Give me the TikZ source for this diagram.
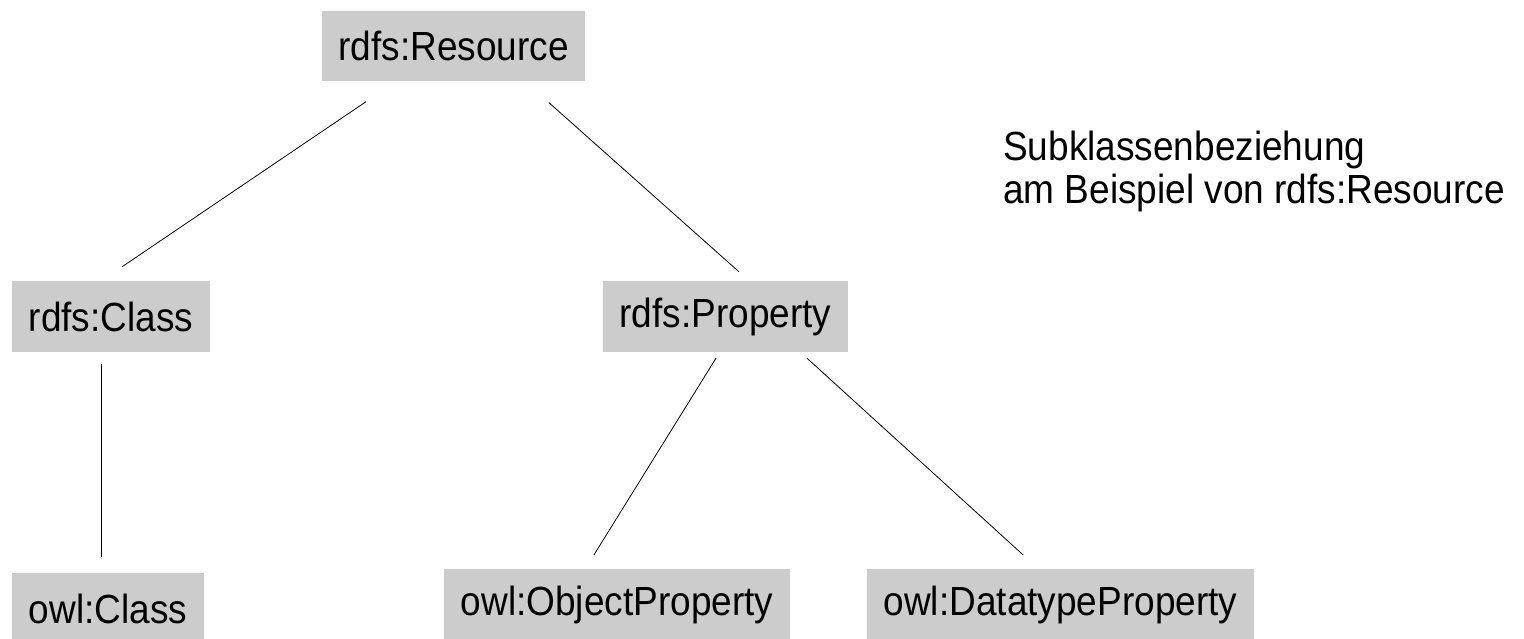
\documentclass[tikz,border=0pt]{standalone}
\usepackage{fontspec}
\setmainfont{Liberation Sans}
\definecolor{boxgray}{HTML}{CCCCCC}
\tikzset{
  tallfont/.style={yscale=1.1, transform shape,
    font=\fontsize{37}{38.5}\selectfont},
  classbox/.style={tallfont, fill=boxgray, inner xsep=16.5pt, inner ysep=0pt,
    minimum height=64.5pt, anchor=center},
  subline/.style={draw=black, line width=0.8pt},
}
\begin{document}
\begin{tikzpicture}[x=1pt,y=1pt]
  \useasboundingbox (0,0) rectangle (1524,-638);

  % class nodes
  \node[classbox] (res)    at (453.5,-46)    {rdfs:Resource};
  \node[classbox] (cls)    at (111,-316.5)   {rdfs:Class};
  \node[classbox] (prop)   at (725.5,-316.5) {rdfs:Property};
  \node[classbox] (owlcls) at (108,-608.5)   {owl:Class};
  \node[classbox] (objp)   at (617,-604.5)   {owl:ObjectProperty};
  \node[classbox] (dtp)    at (1060.5,-604.5){owl:DatatypeProperty};

  % caption
  \node[tallfont, anchor=north west, align=left, inner sep=0pt] (cap)
        at (1003,-131)
        {Subklassenbeziehung\\am Beispiel von rdfs:Resource};

  % subclass links (drawn with a gap to the boxes)
  \draw[subline] ([shift={(-87.5,-20)}]res.south) -- ([shift={(11,14)}]cls.north);
  \draw[subline] ([shift={(95.5,-21)}]res.south) -- ([shift={(13.5,9)}]prop.north);
  \draw[subline] ([shift={(-10,-12)}]cls.south) -- ([shift={(-7,16)}]owlcls.north);
  \draw[subline] ([shift={(-9.5,-6)}]prop.south) -- ([shift={(-23,14)}]objp.north);
  \draw[subline] ([shift={(81.5,-6)}]prop.south) -- ([shift={(-37.5,14)}]dtp.north);
\end{tikzpicture}
\end{document}
